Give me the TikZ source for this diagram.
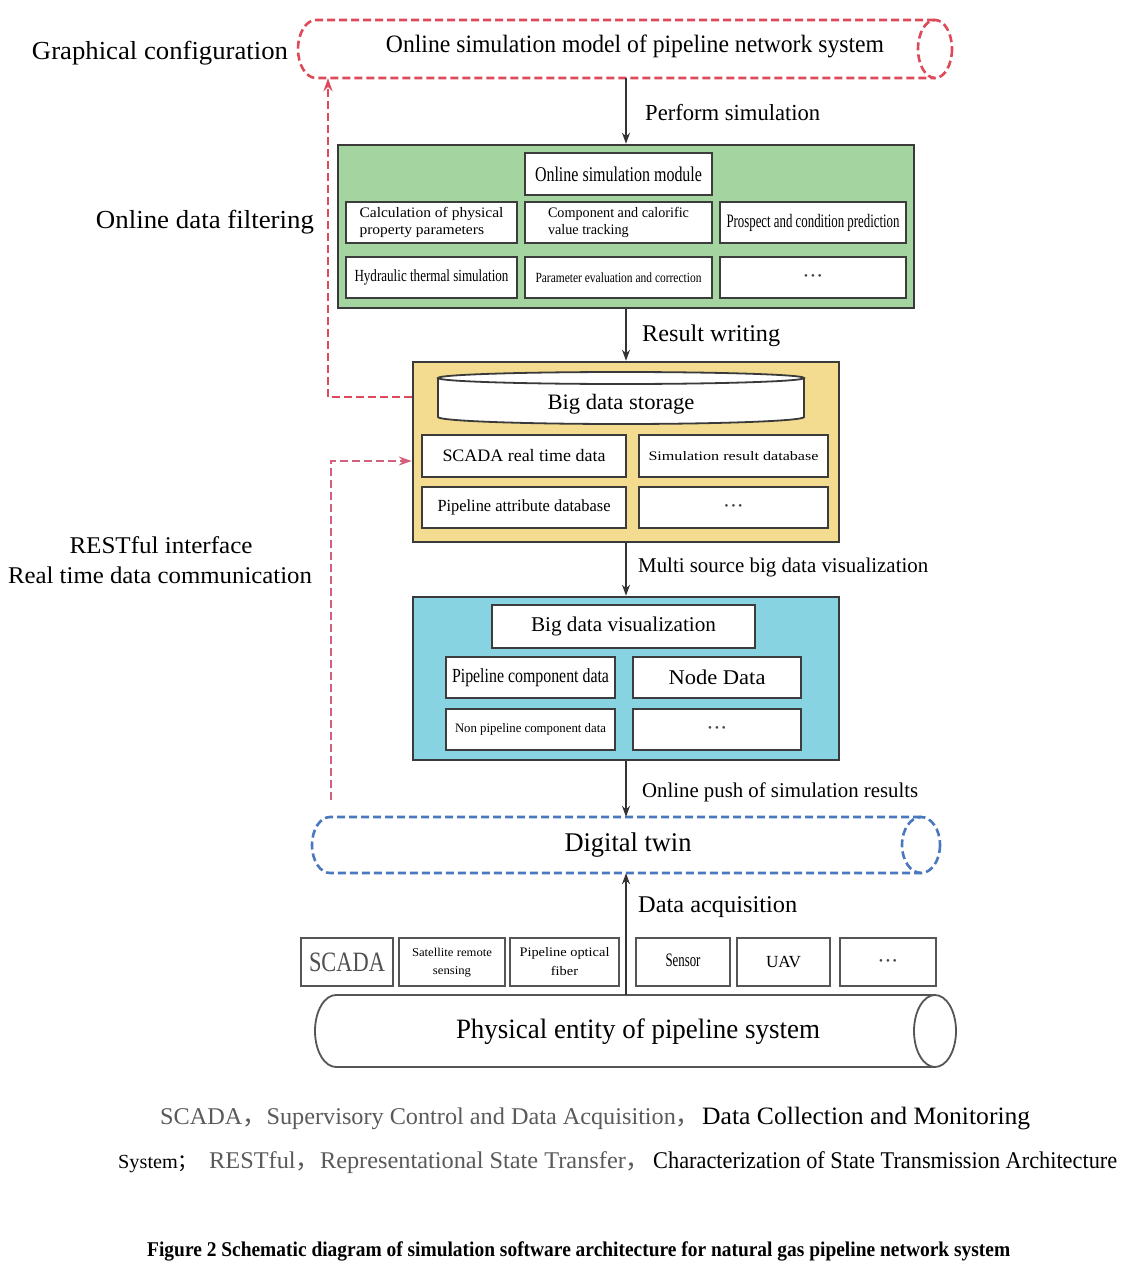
\documentclass[tikz,border=0pt]{standalone}
\usepackage{fontspec}
\usepackage{graphicx}
\setmainfont{Liberation Serif}
\newfontfamily\cjk{Noto Sans CJK SC}
\usetikzlibrary{arrows.meta}
\definecolor{gfill}{HTML}{A4D5A0}
\definecolor{yfill}{HTML}{F3DB90}
\definecolor{bfill}{HTML}{88D3E1}
\definecolor{boxline}{HTML}{3A3A3A}
\definecolor{inline}{HTML}{3C3C3C}
\definecolor{srcline}{HTML}{555555}
\definecolor{arrcol}{HTML}{333333}
\definecolor{redc}{HTML}{DD4A5A}
\definecolor{redc2}{HTML}{D2607A}
\definecolor{bluec}{HTML}{4A78BE}
\definecolor{capgray}{HTML}{5A5A5A}
\definecolor{scadagray}{HTML}{505050}
\definecolor{dotgray}{HTML}{444444}
\newcommand\T[3]{{\fontsize{#1}{#1}\selectfont\resizebox{#2pt}{\height}{#3}}}
\newcommand\TT[5]{{\fontsize{#1}{#2}\selectfont\resizebox{#3pt}{\height}{\begin{tabular}{@{}#4@{}}#5\end{tabular}}}}
\newcommand\mydots{{\color{dotgray}\fontsize{11}{11}\selectfont •\hspace{3pt}•\hspace{3pt}•}}
\tikzset{
  outer/.style={draw=boxline, line width=2.5pt, inner sep=0pt},
  inbox/.style={draw=inline, line width=2.2pt, fill=white, inner sep=0pt},
  src/.style={draw=srcline, line width=1.8pt, fill=white, inner sep=0pt},
  ghost/.style={inner sep=0pt, draw=none},
  lbl/.style={inner sep=0pt, anchor=west, yshift=-2.5pt},
  txt/.style={inner sep=0pt, yshift=-2.5pt},
  arr/.style={draw=arrcol, line width=1.6pt, -{Stealth[length=11pt,width=8pt]}},
  reddash/.style={draw=redc, line width=2.6pt, dash pattern=on 8pt off 4pt},
  redarr/.style={draw=redc, line width=2.5pt, dash pattern=on 8pt off 4pt, -{Stealth[length=13pt,width=9pt,fill=redc]}},
  redarrb/.style={draw=redc2, line width=2.3pt, dash pattern=on 8pt off 4pt, -{Stealth[length=13pt,width=9pt,fill=redc]}},
  bluedash/.style={draw=bluec, line width=2.6pt, dash pattern=on 8pt off 4pt},
  cyl/.style={draw=srcline, line width=1.8pt},
  cylb/.style={draw=boxline, line width=1.8pt},
}
\begin{document}
\begin{tikzpicture}[x=1pt,y=-1pt]
\fill[white] (0,0) rectangle (1141,1265);
\useasboundingbox (0,0) rectangle (1141,1265);

% ---------- top pill ----------
\node[ghost, minimum width=654pt, minimum height=58pt] (top) at (626,49) {};
\draw[reddash, fill=white] (935,20) -- (316,20) arc[start angle=270,end angle=90,x radius=18,y radius=29] -- (935,78);
\draw[reddash] (935,49) ellipse[x radius=17,y radius=29];
\node[txt] (toptxt) at (635,44) {\T{25}{498}{Online simulation model of pipeline network system}};

% ---------- green block ----------
\node[outer, fill=gfill, minimum width=576pt, minimum height=163pt] (green) at (626,226.5) {};
\node[inbox, minimum width=187pt, minimum height=42pt] (osm) at (618.5,174) {\T{21}{167}{Online simulation module}};
\node[inbox, minimum width=171pt, minimum height=41pt] (g11) at (431.5,222.5) {\TT{14.5}{17}{144}{l}{Calculation of physical\\property parameters}};
\node[inbox, minimum width=187pt, minimum height=41pt] (g12) at (618.5,222.5) {\TT{14.5}{17}{141}{l}{Component and calorific\\value tracking}};
\node[inbox, minimum width=186pt, minimum height=41pt] (g13) at (813,222.5) {\T{19}{173}{Prospect and condition prediction}};
\node[inbox, minimum width=171pt, minimum height=41pt] (g21) at (431.5,277.5) {\T{17}{154}{Hydraulic thermal simulation}};
\node[inbox, minimum width=187pt, minimum height=41pt] (g22) at (618.5,277.5) {\T{14}{166}{Parameter evaluation and correction}};
\node[inbox, minimum width=186pt, minimum height=41pt] (g23) at (813,277.5) {\mydots};

% ---------- yellow block ----------
\node[outer, fill=yfill, minimum width=426pt, minimum height=180pt] (yellow) at (626,452) {};
\node[ghost, minimum width=366pt, minimum height=52pt] (bds) at (621,398) {};
\draw[cylb, fill=white] (438,378) -- (438,417) arc[start angle=180,end angle=0,x radius=183,y radius=7] -- (804,378);
\draw[cylb, fill=white] (621,378) ellipse[x radius=183,y radius=6];
\node[txt] (bdstxt) at (621,402) {\T{22}{147}{Big data storage}};
\node[inbox, minimum width=204pt, minimum height=42pt] (y11) at (524,456) {\T{17.5}{163}{SCADA real time data}};
\node[inbox, minimum width=189pt, minimum height=42pt] (y12) at (733.5,456) {\T{13}{170}{Simulation result database}};
\node[inbox, minimum width=204pt, minimum height=41pt] (y21) at (524,507.5) {\T{17}{173}{Pipeline attribute database}};
\node[inbox, minimum width=189pt, minimum height=41pt] (y22) at (733.5,507.5) {\mydots};

% ---------- blue block ----------
\node[outer, fill=bfill, minimum width=426pt, minimum height=163pt] (blue) at (626,678.5) {};
\node[inbox, minimum width=263pt, minimum height=43pt] (bdv) at (623.5,626.5) {\T{21}{185}{Big data visualization}};
\node[inbox, minimum width=169pt, minimum height=41pt] (b11) at (530.5,677.5) {\T{20}{157}{Pipeline component data}};
\node[inbox, minimum width=168pt, minimum height=41pt] (b12) at (717,677.5) {\T{21}{97}{Node Data}};
\node[inbox, minimum width=169pt, minimum height=41pt] (b21) at (530.5,729.5) {\T{13}{151}{Non pipeline component data}};
\node[inbox, minimum width=168pt, minimum height=41pt] (b22) at (717,729.5) {\mydots};

% ---------- digital twin ----------
\node[ghost, minimum width=628pt, minimum height=56pt] (dt) at (626,845) {};
\draw[bluedash, fill=white] (921,817) -- (330,817) arc[start angle=270,end angle=90,x radius=18,y radius=28] -- (921,873);
\draw[bluedash] (921,845) ellipse[x radius=19,y radius=28];
\node[txt] (dttxt) at (628,843) {\T{27}{127}{Digital twin}};

% ---------- sources ----------
\node[src, minimum width=92pt, minimum height=48pt] (s1) at (347,962) {\color{scadagray}\T{28}{76}{SCADA}};
\node[src, minimum width=106pt, minimum height=48pt] (s2) at (452,962) {\TT{12}{18}{80}{c}{Satellite remote\\sensing}};
\node[src, minimum width=109pt, minimum height=48pt] (s3) at (564.5,962) {\TT{13}{19}{90}{c}{Pipeline optical\\fiber}};
\node[src, minimum width=94pt, minimum height=48pt] (s4) at (683,962) {\raisebox{3pt}{\T{19}{35}{Sensor}}};
\node[src, minimum width=93pt, minimum height=48pt] (s5) at (783.5,962) {\raisebox{-3pt}{\T{17}{35}{UAV}}};
\node[src, minimum width=96pt, minimum height=48pt] (s6) at (888,962) {\mydots};

% ---------- physical entity ----------
\node[ghost, minimum width=641pt, minimum height=72pt] (phys) at (635.5,1031) {};
\draw[cyl, fill=white] (935,995) -- (336,995) arc[start angle=270,end angle=90,x radius=21,y radius=36] -- (935,1067);
\draw[cyl] (935,1031) ellipse[x radius=21,y radius=36];
\node[txt] (phystxt) at (638,1029) {\T{28}{364}{Physical entity of pipeline system}};

% ---------- connectors ----------
\draw[arr] (green.north |- top.south) -- (green.north);
\draw[arr] (green.south) -- (yellow.north);
\draw[arr] (yellow.south) -- (blue.north);
\draw[arr] (blue.south) -- (dt.north);
\draw[arr] (phys.north -| dt.south) -- (dt.south);

\coordinate (cL1) at (328,397);
\draw[redarr] (yellow.west |- cL1) -- (cL1) -- (cL1 |- top.south);
\coordinate (cL2) at (331,800);
\coordinate (cL2t) at (331,461);
\draw[redarrb] (cL2) -- (cL2t) -- (cL2t -| yellow.west);

% ---------- labels ----------
\node[lbl] (lperf) at (645,110) {\T{23}{175}{Perform simulation}};
\node[lbl] (lres) at (642,333) {\T{24}{138}{Result writing}};
\node[lbl] (lmulti) at (638,565) {\T{21}{290}{Multi source big data visualization}};
\node[lbl] (lpush) at (642,790) {\T{21}{276}{Online push of simulation results}};
\node[lbl] (lacq) at (638,905) {\T{24}{159}{Data acquisition}};
\node[txt] (lgc) at (160,51) {\T{26}{256}{Graphical configuration}};
\node[txt] (lodf) at (205,220) {\T{26}{218}{Online data filtering}};
\node[txt] (lrest) at (161,543) {\T{24}{183}{RESTful interface}};
\node[txt] (lrtd) at (160,573) {\T{24}{304}{Real time data communication}};

% ---------- caption ----------
\node[inner sep=0pt, anchor=base west] (cap1a) at (160,1124) {\color{capgray}\T{24}{540}{SCADA{\cjk ，}Supervisory Control and Data Acquisition{\cjk ，}}};
\node[inner sep=0pt, anchor=base west] (cap1b) at (702,1124) {\T{25}{328}{Data Collection and Monitoring}};
\node[inner sep=0pt, anchor=base west] (cap2a) at (118,1168) {\T{20}{80}{System{\cjk ；}}};
\node[inner sep=0pt, anchor=base west] (cap2b) at (209,1168) {\color{capgray}\T{24}{441}{RESTful{\cjk ，}Representational State Transfer{\cjk ，}}};
\node[inner sep=0pt, anchor=base west] (cap2c) at (653,1168) {\T{24}{464}{Characterization of State Transmission Architecture}};
\node[inner sep=0pt, anchor=base west] (fig) at (147,1256) {\bfseries\T{21}{863}{Figure 2 Schematic diagram of simulation software architecture for natural gas pipeline network system}};
\end{tikzpicture}
\end{document}
